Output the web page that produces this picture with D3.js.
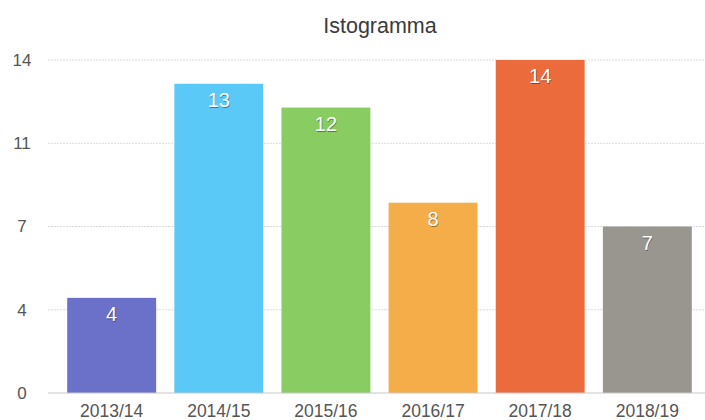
<!DOCTYPE html>
<html><head><meta charset="utf-8">
<script src="https://cdn.jsdelivr.net/npm/d3@7"></script>
<style>body{margin:0;background:#fff}svg{display:block;font-family:"Liberation Sans",Arial,Helvetica,sans-serif}</style>
</head><body>
<script>
const title = "Istogramma";
const categories = ["2013/14","2014/15","2015/16","2016/17","2017/18","2018/19"];
const values = [4, 13, 12, 8, 14, 7];
const colors = ["#6b70c9","#5bc9f8","#89cc61","#f4ad48","#ec6b3d","#999690"];
const tickValues = [0, 3.5, 7, 10.5, 14];
const tickLabels = ["0","4","7","11","14"];

const W = 705, H = 420;
const svg = d3.select("body").append("svg").attr("width", W).attr("height", H);

const x = d3.scaleBand().domain(categories).range([49, 710]).paddingInner(0.17).paddingOuter(0.17);
const y = d3.scaleLinear().domain([0, 14]).range([393, 60]);

svg.append("text").attr("x", 380).attr("y", 33).attr("text-anchor", "middle")
  .attr("font-size", 21.5).attr("fill", "#3a3a3a").text(title);

// gridlines
svg.append("g").selectAll("line").data(tickValues.slice(1)).join("line")
  .attr("x1", 48).attr("x2", W).attr("y1", d => y(d)).attr("y2", d => y(d))
  .attr("stroke", "#dadada").attr("stroke-width", 1).attr("stroke-dasharray", "2,1");

// y labels
svg.append("g").selectAll("text").data(tickValues).join("text")
  .attr("x", 22).attr("y", d => y(d)).attr("dy", "0.35em").attr("text-anchor", "middle")
  .attr("font-size", 17).attr("fill", "#555").text((d, i) => tickLabels[i]);

// bars
svg.append("g").selectAll("rect").data(values).join("rect")
  .attr("x", (d, i) => x(categories[i])).attr("width", x.bandwidth())
  .attr("y", d => y(d)).attr("height", d => y(0) - y(d))
  .attr("fill", (d, i) => colors[i]);

// baseline
svg.append("line").attr("x1", 48).attr("x2", W).attr("y1", y(0)).attr("y2", y(0))
  .attr("stroke", "#c8c8c8").attr("stroke-width", 1.2);

// value labels with shadow
const lab = svg.append("g");
lab.selectAll("text.sh").data(values).join("text").attr("class", "sh")
  .attr("x", (d, i) => x(categories[i]) + x.bandwidth() / 2 + 0.6).attr("y", d => y(d) + 24)
  .attr("text-anchor", "middle").attr("font-size", 20).attr("fill", "rgba(0,0,0,0.4)").text(d => d);
lab.selectAll("text.v").data(values).join("text").attr("class", "v")
  .attr("x", (d, i) => x(categories[i]) + x.bandwidth() / 2).attr("y", d => y(d) + 23)
  .attr("text-anchor", "middle").attr("font-size", 20).attr("fill", "#fff").text(d => d);

// x labels
svg.append("g").selectAll("text").data(categories).join("text")
  .attr("x", d => x(d) + x.bandwidth() / 2).attr("y", 417).attr("text-anchor", "middle")
  .attr("font-size", 17.5).attr("fill", "#555").text(d => d);
</script>
</body></html>
